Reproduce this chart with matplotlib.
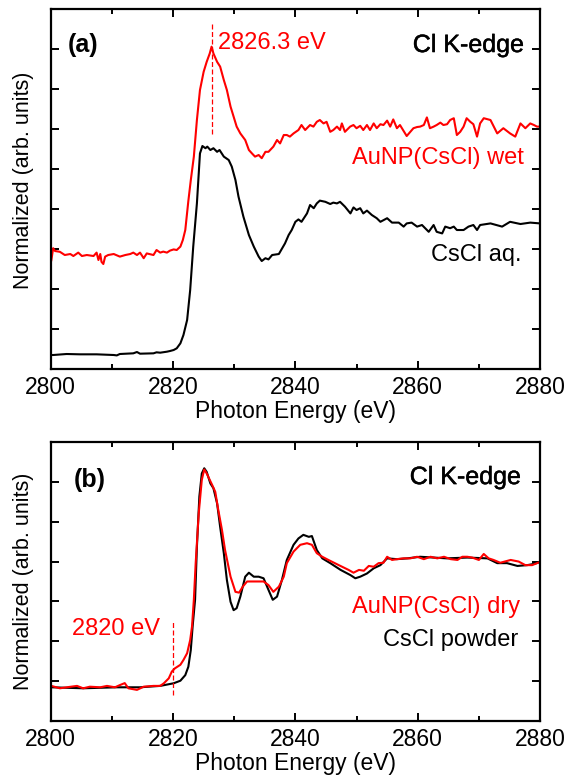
import numpy as np
import matplotlib
matplotlib.use("Agg")
import matplotlib.pyplot as plt
import matplotlib.patheffects as pe
from matplotlib.ticker import MultipleLocator

plt.rcParams['font.family'] = ['Liberation Sans', 'DejaVu Sans']

# ---- panel (a): Cl K-edge, wet sample vs aqueous solution ----
wet_e = [2800.1, 2800.4, 2800.7, 2801.5, 2802.3, 2803.2, 2803.7, 2804.5, 2805.1, 2805.9,
         2807.0, 2807.5, 2807.8, 2808.1, 2808.3, 2808.6, 2808.9, 2809.4, 2810.3, 2811.3,
         2812.2, 2813.0, 2813.5, 2814.1, 2814.6, 2815.2, 2815.7, 2816.8, 2817.3, 2817.9,
         2818.4, 2819.0, 2819.5, 2820.1, 2820.6, 2821.2, 2821.6, 2822.0, 2822.5, 2822.9,
         2823.4, 2823.9, 2824.4, 2825.0, 2825.5, 2826.0, 2826.3, 2826.6, 2827.2, 2827.7,
         2828.3, 2828.8, 2829.4, 2829.9, 2830.4, 2831.0, 2831.8, 2832.4, 2832.9, 2833.4,
         2834.0, 2834.5, 2835.1, 2835.6, 2836.4, 2837.0, 2837.5, 2838.1, 2838.6, 2839.1,
         2839.7, 2840.5, 2841.0, 2841.6, 2842.4, 2842.95, 2843.5, 2844.0, 2844.6, 2845.1,
         2845.7, 2846.2, 2846.8, 2847.3, 2847.6, 2848.1, 2848.95, 2849.5, 2850.0, 2850.6,
         2851.1, 2851.7, 2852.2, 2852.8, 2853.3, 2853.9, 2854.4, 2855.0, 2855.5, 2856.0,
         2856.6, 2857.1, 2858.2, 2859.3, 2859.9, 2860.4, 2861.0, 2861.5, 2862.0, 2862.6,
         2863.1, 2863.7, 2864.2, 2864.8, 2865.3, 2865.9, 2866.4, 2866.95, 2867.5, 2868.0,
         2868.6, 2869.1, 2869.7, 2870.2, 2870.8, 2871.9, 2873.0, 2874.0, 2875.1, 2875.95,
         2876.8, 2877.6, 2878.4, 2879.0, 2879.5, 2880.0]
wet_mu = [2.72, 3.02, 2.95, 2.93, 2.85, 2.875, 2.825, 2.91, 2.825, 2.85,
          2.825, 2.91, 2.725, 2.875, 2.68, 2.625, 2.81, 2.85, 2.875, 2.81,
          2.85, 2.875, 2.91, 2.85, 2.91, 2.77, 2.89, 2.85, 2.975, 2.91,
          2.935, 2.91, 2.96, 2.99, 2.975, 3.06, 3.225, 3.475, 4.2, 4.72,
          5.31, 6.225, 6.975, 7.43, 7.68, 7.89, 8.06, 7.89, 7.68, 7.56,
          7.225, 6.975, 6.56, 6.31, 6.06, 5.89, 5.725, 5.475, 5.39, 5.31,
          5.35, 5.27, 5.43, 5.43, 5.56, 5.725, 5.64, 5.85, 5.85, 5.81,
          5.89, 5.975, 6.1, 5.975, 6.1, 6.06, 6.18, 6.225, 6.14, 6.18,
          5.93, 5.975, 6.06, 5.975, 6.14, 5.93, 6.06, 6.1, 6.02, 6.08,
          5.975, 6.1, 5.975, 6.14, 6.02, 6.12, 6.1, 6.21, 6.06, 6.24,
          6.02, 6.1, 5.825, 6.02, 6.05, 6.06, 6.1, 6.29, 6.02, 6.06,
          6.1, 6.16, 6.1, 6.12, 6.225, 6.27, 5.85, 5.93, 6.06, 6.27,
          6.18, 6.12, 5.81, 6.14, 6.27, 6.225, 5.89, 6.02, 5.89, 5.81,
          6.14, 6.02, 6.14, 6.1, 6.06, 6.06]

aq_e = [2800.1, 2800.4, 2802.6, 2804.8, 2807.5, 2810.3, 2810.8, 2811.3, 2813.5, 2814.1,
        2814.6, 2816.8, 2817.3, 2817.9, 2819.0, 2819.5, 2820.1, 2820.6, 2821.2, 2821.7,
        2822.3, 2822.8, 2823.3, 2823.9, 2824.2, 2824.4, 2824.8, 2825.3, 2825.6, 2826.1,
        2826.6, 2827.2, 2827.6, 2828.3, 2829.1, 2829.6, 2830.2, 2830.7, 2831.5, 2832.4,
        2833.2, 2834.0, 2834.5, 2835.1, 2835.6, 2836.2, 2837.3, 2838.3, 2838.9, 2839.4,
        2840.0, 2840.5, 2841.0, 2841.9, 2842.4, 2843.0, 2843.5, 2844.0, 2844.9, 2845.7,
        2846.2, 2846.8, 2847.3, 2848.1, 2849.0, 2849.5, 2850.0, 2850.6, 2851.1, 2851.7,
        2852.5, 2853.3, 2853.9, 2855.0, 2855.8, 2856.9, 2857.7, 2858.2, 2859.0, 2859.9,
        2860.7, 2861.8, 2862.6, 2863.1, 2864.0, 2864.5, 2865.3, 2865.9, 2866.4, 2867.5,
        2868.3, 2869.1, 2869.7, 2870.2, 2871.9, 2873.8, 2875.1, 2876.8, 2878.4, 2880.0]
aq_mu = [0.35, 0.35, 0.375, 0.367, 0.367, 0.35, 0.34, 0.375, 0.392, 0.425,
         0.383, 0.392, 0.417, 0.408, 0.433, 0.45, 0.475, 0.517, 0.642, 0.85,
         1.225, 1.975, 3.06, 4.14, 4.89, 5.39, 5.575, 5.52, 5.56, 5.475,
         5.52, 5.43, 5.475, 5.31, 5.225, 5.06, 4.725, 4.31, 3.81, 3.35,
         3.06, 2.81, 2.7, 2.77, 2.74, 2.85, 2.875, 3.14, 3.35, 3.475,
         3.68, 3.74, 3.68, 3.89, 4.1, 4.02, 4.14, 4.21, 4.18, 4.125,
         4.16, 4.14, 4.18, 4.06, 3.89, 4.04, 3.975, 4.02, 3.89, 3.96,
         3.85, 3.77, 3.68, 3.77, 3.66, 3.66, 3.56, 3.64, 3.66, 3.56,
         3.6, 3.43, 3.6, 3.43, 3.39, 3.56, 3.52, 3.56, 3.475, 3.475,
         3.56, 3.6, 3.475, 3.6, 3.64, 3.56, 3.68, 3.625, 3.66, 3.64]

# ---- panel (b): Cl K-edge, dry sample vs powder ----
dry_e = [2800.1, 2801.5, 2802.6, 2804.3, 2805.3, 2806.4, 2808.1, 2809.2, 2810.5, 2811.3,
         2812.1, 2812.7, 2814.1, 2815.2, 2816.8, 2817.9, 2818.5, 2819.3, 2819.8, 2820.3,
         2821.2, 2821.7, 2822.3, 2822.8, 2823.1, 2823.4, 2823.7, 2824.2, 2824.7, 2825.1,
         2825.5, 2826.4, 2826.9, 2827.4, 2828.0, 2828.5, 2829.4, 2830.2, 2830.8, 2831.4,
         2832.1, 2833.2, 2834.8, 2835.6, 2836.4, 2837.3, 2838.1, 2838.6, 2839.7, 2840.8,
         2841.9, 2842.7, 2843.5, 2844.4, 2845.4, 2847.1, 2848.7, 2849.5, 2850.4, 2851.2,
         2852.0, 2852.8, 2853.6, 2854.4, 2855.0, 2855.8, 2856.6, 2857.7, 2858.8, 2859.9,
         2861.0, 2862.1, 2863.2, 2864.3, 2865.4, 2866.5, 2867.3, 2868.1, 2868.9, 2870.0,
         2870.8, 2871.6, 2872.4, 2873.5, 2875.2, 2876.5, 2877.6, 2878.7, 2880.0]
dry_mu = [0.88, 0.82, 0.845, 0.88, 0.82, 0.86, 0.845, 0.88, 0.845, 0.90,
          0.95, 0.82, 0.78, 0.86, 0.88, 0.88, 0.946, 1.07, 1.24, 1.32,
          1.41, 1.53, 1.70, 2.03, 2.37, 3.04, 3.96, 5.21, 6.05, 6.31,
          6.21, 5.92, 5.75, 5.29, 4.79, 4.29, 3.62, 3.24, 3.22, 3.37,
          3.5, 3.5, 3.5, 3.41, 3.24, 3.37, 3.62, 3.96, 4.25, 4.42,
          4.46, 4.42, 4.21, 4.12, 4.04, 3.91, 3.79, 3.72, 3.79, 3.77,
          3.89, 3.87, 3.96, 3.97, 4.12, 4.04, 4.06, 4.08, 4.08, 4.12,
          4.06, 4.12, 4.08, 4.12, 4.06, 4.04, 4.12, 4.12, 4.10, 4.04,
          4.19, 4.08, 4.04, 3.97, 4.04, 4.00, 3.91, 3.91, 3.99]

powder_e = [2800.1, 2805.3, 2810.8, 2814.6, 2817.9, 2820.1, 2821.2, 2822.0, 2822.5, 2822.9,
            2823.2, 2823.6, 2823.9, 2824.3, 2824.7, 2825.1, 2825.5, 2826.1, 2826.6, 2827.2,
            2827.7, 2828.3, 2828.8, 2829.4, 2829.9, 2830.4, 2831.0, 2831.8, 2832.4, 2833.2,
            2834.0, 2834.8, 2835.6, 2836.3, 2837.0, 2837.8, 2838.6, 2839.7, 2840.5, 2841.3,
            2842.2, 2842.7, 2843.5, 2844.4, 2845.7, 2847.4, 2849.0, 2849.8, 2850.6, 2851.7,
            2852.8, 2853.9, 2855.0, 2856.6, 2858.3, 2860.4, 2862.6, 2864.8, 2868.1, 2871.4,
            2873.0, 2874.6, 2876.3, 2877.9, 2879.0, 2880.0]
powder_mu = [0.845, 0.82, 0.845, 0.845, 0.88, 0.946, 1.01, 1.15, 1.36, 1.78,
             2.37, 3.04, 4.37, 5.63, 6.21, 6.34, 6.25, 5.96, 5.84, 5.46,
             4.87, 4.21, 3.54, 2.99, 2.78, 2.83, 3.12, 3.62, 3.72, 3.62,
             3.62, 3.58, 3.29, 3.04, 3.12, 3.54, 4.04, 4.42, 4.58, 4.67,
             4.62, 4.64, 4.29, 4.08, 3.96, 3.79, 3.66, 3.58, 3.62, 3.70,
             3.83, 3.91, 4.08, 4.06, 4.08, 4.12, 4.10, 4.08, 4.10, 4.08,
             3.96, 3.96, 3.89, 3.91, 3.94, 3.99]

x_ticks = [2800, 2820, 2840, 2860, 2880]
peak_a = 2826.3
edge_b = 2820

fig = plt.figure(figsize=(5.81, 7.78), dpi=100)
ax_a = fig.add_axes([0.0873, 0.5257, 0.8422, 0.4627])
ax_b = fig.add_axes([0.0873, 0.0733, 0.8422, 0.3586])

# slightly heavier strokes for the "Cl K-edge" captions
heavy = [pe.withStroke(linewidth=0.35, foreground='black')]


def style_axis(ax, ymax):
    ax.set_xlim(2800, 2880)
    ax.set_ylim(0, ymax)
    ax.set_xticks(x_ticks)
    ax.xaxis.set_minor_locator(MultipleLocator(10))
    ax.yaxis.set_major_locator(MultipleLocator(1))
    ax.set_yticklabels([])
    ax.tick_params(which='both', direction='in', top=True, right=True, width=1.4)
    ax.tick_params(which='major', length=6)
    ax.tick_params(which='minor', length=3.5)
    ax.tick_params(axis='x', labelsize=16.5, pad=5)
    for sp in ax.spines.values():
        sp.set_linewidth(1.6)
    ax.set_xlabel('Photon Energy (eV)', fontsize=16.5, labelpad=1)
    ax.set_ylabel('Normalized (arb. units)', fontsize=15.5)


# panel (a)
ax_a.plot(aq_e, aq_mu, color='black', lw=1.5)
ax_a.plot(wet_e, wet_mu, color='red', lw=1.5)
ax_a.plot([peak_a, peak_a], [5.88, 8.68], color='red', lw=0.9, ls=(0, (4, 2)))
style_axis(ax_a, 9)
ax_a.yaxis.set_label_coords(-0.034, 0.524)
ax_a.text(2802.8, 8.1, '(a)', fontsize=18, fontweight='bold', va='center')
ax_a.text(2877.3, 8.1, 'Cl K-edge', fontsize=18, ha='right', va='center', path_effects=heavy)
ax_a.text(peak_a + 1.0, 8.15, '2826.3 eV', fontsize=17, color='red', va='center')
ax_a.text(2877.3, 5.28, 'AuNP(CsCl) wet', fontsize=17, color='red', ha='right', va='center')
ax_a.text(2877.0, 2.85, 'CsCl aq.', fontsize=17, ha='right', va='center')

# panel (b)
ax_b.plot(powder_e, powder_mu, color='black', lw=1.5)
ax_b.plot(dry_e, dry_mu, color='red', lw=1.5)
ax_b.plot([edge_b, edge_b], [0.65, 2.53], color='red', lw=0.9, ls=(0, (4, 2)))
style_axis(ax_b, 7)
ax_b.yaxis.set_label_coords(-0.034, 0.5)
ax_b.text(2803.8, 6.04, '(b)', fontsize=18, fontweight='bold', va='center')
ax_b.text(2876.8, 6.12, 'Cl K-edge', fontsize=18, ha='right', va='center', path_effects=heavy)
ax_b.text(2876.8, 2.86, 'AuNP(CsCl) dry', fontsize=17, color='red', ha='right', va='center')
ax_b.text(2876.5, 2.03, 'CsCl powder', fontsize=17, ha='right', va='center')
ax_b.text(2803.4, 2.3, '2820 eV', fontsize=17, color='red', va='center')

fig.savefig('out.png', dpi=100)
